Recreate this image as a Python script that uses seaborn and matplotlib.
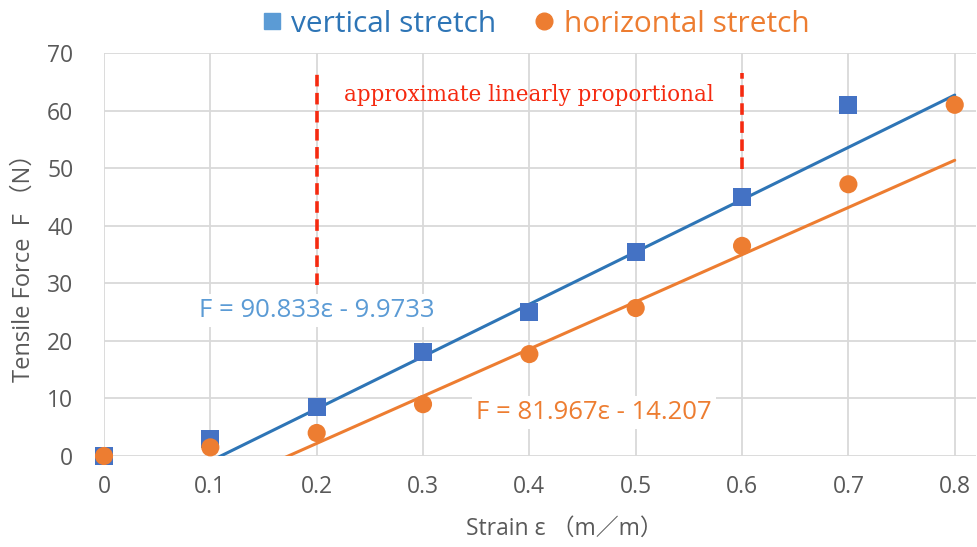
import numpy as np
import pandas as pd
import matplotlib
matplotlib.use("Agg")
import matplotlib.pyplot as plt
import seaborn as sns
from matplotlib.lines import Line2D

# ---- data ----
strain_vertical = [0.0, 0.1, 0.2, 0.3, 0.4, 0.5, 0.6, 0.7]
force_vertical = [0.0, 3.0, 8.5, 18.0, 25.0, 35.5, 45.0, 61.0]
strain_horizontal = [0.0, 0.1, 0.2, 0.3, 0.4, 0.5, 0.6, 0.7, 0.8]
force_horizontal = [0.0, 1.5, 4.0, 9.0, 17.7, 25.7, 36.5, 47.2, 61.0]
trend_vertical = (90.833, -9.9733)    # slope, intercept
trend_horizontal = (81.967, -14.207)
trend_x = [0.0, 0.8]
series_names = ["vertical stretch", "horizontal stretch"]
x_ticks = [0, 0.1, 0.2, 0.3, 0.4, 0.5, 0.6, 0.7, 0.8]
x_tick_labels = ["0", "0.1", "0.2", "0.3", "0.4", "0.5", "0.6", "0.7", "0.8"]
y_ticks = [0, 10, 20, 30, 40, 50, 60, 70]
eq_vertical = "F = 90.833ε - 9.9733"
eq_horizontal = "F = 81.967ε - 14.207"
note_text = "approximate linearly proportional"
dash_x = [0.2, 0.6]
dash_ybottom = [29.7, 49.8]
dash_ytop = [66.5, 66.5]

BLUE_M = "#4472C4"
BLUE_L = "#2E75B6"
BLUE_T = "#5B9BD5"
ORANGE = "#ED7D31"
RED = "#F52A10"
GRID = "#D9D9D9"
TXT = "#595959"

sns.set_theme(style="white")
plt.rcParams["font.family"] = ["Open Sans", "DejaVu Sans"]

fig = plt.figure(figsize=(9.78, 5.47), dpi=100)
ax = fig.add_axes([104 / 978, 1 - 456 / 547, 872 / 978, (456 - 53) / 547])

# grid
ax.set_axisbelow(True)
ax.grid(True, color=GRID, linewidth=1.3)
for s in ax.spines.values():
    s.set_visible(False)

# trend lines
tv = pd.DataFrame({"x": trend_x, "y": [trend_vertical[0] * x + trend_vertical[1] for x in trend_x]})
th = pd.DataFrame({"x": trend_x, "y": [trend_horizontal[0] * x + trend_horizontal[1] for x in trend_x]})
sns.lineplot(data=tv, x="x", y="y", ax=ax, color=BLUE_L, linewidth=2.2, zorder=3)
sns.lineplot(data=th, x="x", y="y", ax=ax, color=ORANGE, linewidth=2.2, zorder=3)

# scatter points
dv = pd.DataFrame({"x": strain_vertical, "y": force_vertical})
dh = pd.DataFrame({"x": strain_horizontal, "y": force_horizontal})
sns.scatterplot(data=dv, x="x", y="y", ax=ax, marker="s", s=170, color=BLUE_M,
                edgecolor="none", zorder=4, clip_on=False)
sns.scatterplot(data=dh, x="x", y="y", ax=ax, marker="o", s=170, color=ORANGE,
                edgecolor="none", zorder=5, clip_on=False)

# red dashed lines
for xd, yb, yt in zip(dash_x, dash_ybottom, dash_ytop):
    ax.plot([xd, xd], [yb, yt], color=RED, linewidth=2.6,
            linestyle=(0, (3.2, 1.8)), zorder=3)
ax.text(0.4, 62.7, note_text, color=RED, fontsize=15.5,
        family=["DejaVu Serif"], ha="center", va="center")

# equations
ax.text(0.2, 25.3, eq_vertical, color=BLUE_T, fontsize=18.5, ha="center", va="center",
        bbox=dict(facecolor="white", edgecolor="none", pad=3), zorder=6)
ax.text(0.4605, 7.6, eq_horizontal, color=ORANGE, fontsize=18.5, ha="center", va="center",
        bbox=dict(facecolor="white", edgecolor="none", pad=3), zorder=6)

ax.set_xlim(0, 0.82)
ax.set_ylim(0, 70)
ax.set_xticks(x_ticks)
ax.set_xticklabels(x_tick_labels)
ax.set_yticks(y_ticks)
ax.tick_params(axis="both", colors=TXT, labelsize=16.5, length=0, pad=14)
ax.tick_params(axis="y", pad=22)
ax.set_xlabel("Strain ε （m／m）", color=TXT, fontsize=16.5,
              family=["Open Sans", "Noto Sans CJK SC", "DejaVu Sans"])
ax.xaxis.set_label_coords(0.528, -0.152)
ax.set_ylabel("Tensile Force  F （N）", color=TXT, fontsize=17,
              family=["Open Sans", "Noto Sans CJK SC", "DejaVu Sans"])
ax.yaxis.set_label_coords(-0.078, 0.482)

handles = [Line2D([], [], marker="s", linestyle="none", color=BLUE_T, markersize=12),
           Line2D([], [], marker="o", linestyle="none", color=ORANGE, markersize=12)]
leg = fig.legend(handles, series_names, loc="center", bbox_to_anchor=(533 / 978, 1 - 24 / 547),
                 ncol=2, frameon=False, fontsize=21.5, handletextpad=0.15, columnspacing=1.1,
                 handlelength=1.0)
for t, c in zip(leg.get_texts(), [BLUE_L, ORANGE]):
    t.set_color(c)

fig.savefig("out.png", dpi=100)
